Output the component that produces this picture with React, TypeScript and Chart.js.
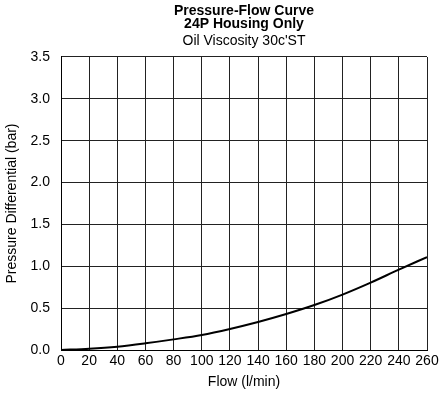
import React, { useEffect, useRef } from "react";
import { Chart, registerables } from "chart.js";

Chart.register(...registerables);

const flow = [0, 20, 40, 60, 80, 100, 120, 140, 160, 180, 200, 220, 240, 260];
const pressure = [0, 0.015, 0.04, 0.08, 0.127, 0.18, 0.252, 0.335, 0.43, 0.537, 0.662, 0.805, 0.96, 1.11];
const titleLines = ["Pressure-Flow Curve", "24P Housing Only"];
const subtitleText = "Oil Viscosity 30c'ST";
const xTitle = "Flow (l/min)";
const yTitle = "Pressure Differential (bar)";

const FONT = "'Liberation Sans', Arial, Helvetica, sans-serif";

export default function App() {
  const ref = useRef<HTMLCanvasElement>(null);
  useEffect(() => {
    if (!ref.current) return;
    const chart = new Chart(ref.current, {
      type: "line",
      data: {
        datasets: [
          {
            data: flow.map((x, i) => ({ x, y: pressure[i] })),
            borderColor: "#000",
            borderWidth: 2,
            pointRadius: 0,
            cubicInterpolationMode: "monotone",
            fill: false,
          },
        ],
      },
      options: {
        responsive: false,
        animation: false,
        layout: { padding: { left: 4, right: 17, top: 0, bottom: 3 } },
        plugins: {
          legend: { display: false },
          tooltip: { enabled: false },
          title: {
            display: true,
            text: titleLines,
            color: "#000",
            fullSize: false,
            font: { family: FONT, size: 14, weight: "bold", lineHeight: 0.95 },
            padding: { top: 4, bottom: 2 },
          },
          subtitle: {
            display: true,
            text: subtitleText,
            color: "#000",
            fullSize: false,
            font: { family: FONT, size: 14, weight: "normal", lineHeight: 1.2 },
            padding: { top: 0, bottom: 7.6 },
          },
        },
        scales: {
          x: {
            type: "linear",
            min: 0,
            max: 260,
            ticks: {
              stepSize: 20,
              color: "#000",
              font: { family: FONT, size: 14 },
              padding: 3,
              maxRotation: 0,
              autoSkip: false,
            },
            grid: { color: "#222", lineWidth: 1, drawTicks: false },
            border: { color: "#000", width: 1 },
            title: {
              display: true,
              text: xTitle,
              color: "#000",
              font: { family: FONT, size: 14 },
              padding: { top: 6, bottom: 0 },
            },
            afterFit: (s: any) => {
              s.height = 41;
            },
          },
          y: {
            min: 0,
            max: 3.5,
            ticks: {
              stepSize: 0.5,
              color: "#000",
              font: { family: FONT, size: 14 },
              padding: 11,
              callback: (v: any) => Number(v).toFixed(1),
            },
            grid: { color: "#222", lineWidth: 1, drawTicks: false },
            border: { color: "#000", width: 1 },
            title: {
              display: true,
              text: yTitle,
              color: "#000",
              font: { family: FONT, size: 14 },
              padding: { top: 0, bottom: 4 },
            },
            afterFit: (s: any) => {
              s.width = 57;
            },
          },
        },
      },
    });
    return () => chart.destroy();
  }, []);
  return (
    <div style={{ position: "fixed", left: 0, top: 0, width: 444, height: 394, background: "#fff" }}>
      <canvas ref={ref} width={444} height={394} />
    </div>
  );
}
